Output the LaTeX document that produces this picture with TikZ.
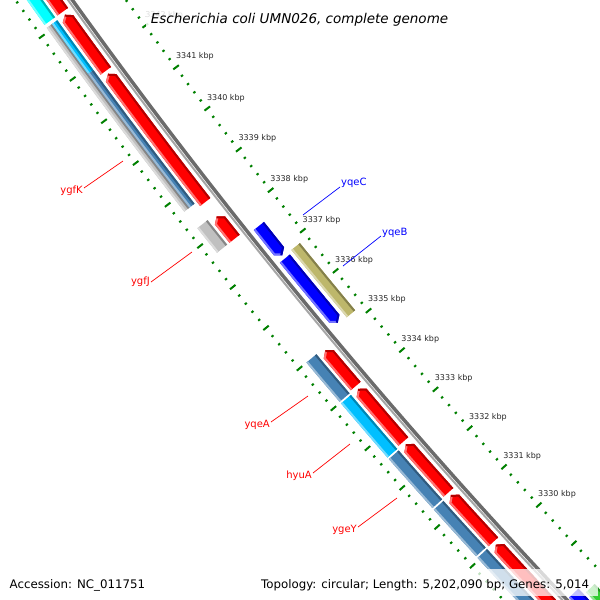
\documentclass[tikz,border=0pt]{standalone}
\usepackage{fontspec}
\setmainfont{DejaVu Sans}[ItalicFont={DejaVu Sans Oblique}]
\usetikzlibrary{calc}
\definecolor{cgred}{RGB}{255,0,0}
\definecolor{cgsteel}{RGB}{70,130,180}
\definecolor{cgsky}{RGB}{0,191,255}
\definecolor{cgcyan}{RGB}{0,255,255}
\definecolor{cgsilver}{RGB}{192,192,192}
\definecolor{cgblue}{RGB}{0,0,255}
\definecolor{cgkhaki}{RGB}{189,183,107}
\definecolor{cggreen}{RGB}{50,205,50}
\definecolor{cgorange}{RGB}{255,140,0}
\definecolor{rulergreen}{RGB}{0,128,0}
% kbp -> angle round the map centre
\newcommand\kang[2]{\pgfmathsetmacro#1{140.09+0.52*(#2-3335)}}
% box feature: k1, k2, inner r, outer r, colour
\newcommand\featbox[5]{%
  \kang\angA{#1}\kang\angB{#2}%
  \begin{scope}
  \fill[#5] (\angA:#3) arc[start angle=\angA,end angle=\angB,radius=#3]
    -- (\angB:#4) arc[start angle=\angB,end angle=\angA,radius=#4] -- cycle;
  \clip (\angA:#3) arc[start angle=\angA,end angle=\angB,radius=#3]
    -- (\angB:#4) arc[start angle=\angB,end angle=\angA,radius=#4] -- cycle;
  \draw[#5!55!white,line width=4] (\angA:#4) arc[start angle=\angA,end angle=\angB,radius=#4];
  \draw[#5!70!black,line width=4] (\angA:#3) arc[start angle=\angA,end angle=\angB,radius=#3];
  \end{scope}}
% arrow feature from angles: flat end, head base, tip
\newcommand\featarrow[6]{%
  \pgfmathsetmacro\rmid{(#4+#5)/2}%
  \begin{scope}
  \fill[#6] (#1:#4) arc[start angle=#1,end angle=#2,radius=#4] -- (#3:\rmid)
    -- (#2:#5) arc[start angle=#2,end angle=#1,radius=#5] -- cycle;
  \clip (#1:#4) arc[start angle=#1,end angle=#2,radius=#4] -- (#3:\rmid)
    -- (#2:#5) arc[start angle=#2,end angle=#1,radius=#5] -- cycle;
  \draw[#6!55!white,line width=4] (#1:#5) arc[start angle=#1,end angle=#2,radius=#5] -- (#3:\rmid);
  \draw[#6!70!black,line width=4] (#1:#4) arc[start angle=#1,end angle=#2,radius=#4] -- (#3:\rmid);
  \end{scope}}
\newcommand\featfwd[5]{\kang\angA{#1}\kang\angB{#2-0.1}\kang\angC{#2}%
  \featarrow{\angA}{\angB}{\angC}{#3}{#4}{#5}}
\newcommand\featrev[5]{\kang\angA{#2}\kang\angB{#1+0.1}\kang\angC{#1}%
  \featarrow{\angA}{\angB}{\angC}{#3}{#4}{#5}}
\tikzset{
  minortick/.style={rulergreen,line width=2pt},
  kbplabel/.style={font=\fontsize{8}{9}\selectfont,text=black!85,inner sep=0pt,anchor=base west},
  genelabel/.style={font=\fontsize{10}{12}\selectfont,inner sep=1pt},
  labelline/.style={line width=0.7pt},
  footer/.style={font=\fontsize{11.8}{14}\selectfont,inner sep=0pt,anchor=base west}
}
\begin{document}
\begin{tikzpicture}[x=1pt,y=-1pt]
\useasboundingbox (0,0) rectangle (600,600);
\clip (0,0) rectangle (600,600);
\begin{scope}[shift={(4739,-3345)}]
  \featbox{3326}{3328.05}{5698}{5709}{cgorange}
  % rulers
  \foreach \i in {0,...,95}{
    \pgfmathsetmacro\kk{3327+0.2*\i}
    \kang\angT{\kk}
    \pgfmathtruncatemacro\major{mod(\i,5)==0}
    \ifnum\major=1
      \draw[minortick] (\angT:5694.5) -- (\angT:5701.5);
      \draw[minortick] (\angT:5784.5) -- (\angT:5791.5);
    \else
      \draw[minortick] (\angT:5697) -- (\angT:5699.5);
      \draw[minortick] (\angT:5787) -- (\angT:5789.5);
    \fi
  }
  \foreach \k in {3330,...,3342}{
    \kang\angT{\k+0.135}
    \node[kbplabel] at (\angT:5693) {\k\ kbp};
  }
  % backbone
  \kang\angA{3326}\kang\angB{3347}
  \draw[black!58,line width=3.5] (\angA:5742) arc[start angle=\angA,end angle=\angB,radius=5742];
  \draw[black!35,line width=2] (\angA:5745.5) arc[start angle=\angA,end angle=\angB,radius=5745.5];
  % forward genes
  \featbox{3343.15}{3347}{5750}{5763}{cgred}
  \featfwd{3341.75}{3343.08}{5750}{5763}{cgred}
  \featfwd{3338.6}{3341.68}{5750}{5763}{cgred}
  \featfwd{3337.7}{3338.25}{5750}{5763}{cgred}
  \featfwd{3334.05}{3334.95}{5750}{5763}{cgred}
  \featfwd{3332.65}{3333.98}{5750}{5763}{cgred}
  \featfwd{3331.35}{3332.58}{5750}{5763}{cgred}
  \featfwd{3330.07}{3331.28}{5750}{5763}{cgred}
  \featfwd{3326}{3330.0}{5750}{5763}{cgred}
  % outer slot
  \featbox{3343.15}{3347}{5766}{5779}{cgcyan}
  \featbox{3338.7}{3343.08}{5772.5}{5779}{cgsilver}
  \featbox{3341.9}{3343.08}{5766}{5772.5}{cgsky}
  \featbox{3338.7}{3341.9}{5766}{5772.5}{cgsteel}
  \featbox{3337.7}{3338.3}{5766}{5779}{cgsilver}
  \featbox{3334.02}{3335.0}{5766}{5779}{cgsteel}
  \featbox{3332.62}{3333.98}{5766}{5779}{cgsky}
  \featbox{3331.33}{3332.58}{5766}{5779}{cgsteel}
  \featbox{3330.09}{3331.29}{5766}{5779}{cgsteel}
  \featbox{3326}{3330.05}{5766}{5779}{cgsteel}
  % reverse genes
  \featrev{3336.88}{3337.6}{5723}{5736}{cgblue}
  \featrev{3335.2}{3336.8}{5723}{5736}{cgblue}
  \featrev{3326}{3328.3}{5726}{5739}{cgblue}
  \featbox{3335.17}{3336.85}{5708}{5719}{cgkhaki}
  \featbox{3326}{3328.15}{5711}{5723}{cggreen}
\end{scope}
% gene labels
\node[genelabel,text=cgred,anchor=east] (ygfK) at (84,191) {ygfK};
\coordinate (ygfKend) at (123,161);
\draw[labelline,cgred] ([yshift=3pt]ygfK.east) -- (ygfKend);
\node[genelabel,text=cgred,anchor=east] (ygfJ) at (151,282) {ygfJ};
\coordinate (ygfJend) at (192,252);
\draw[labelline,cgred] (ygfJ.east) -- (ygfJend);
\node[genelabel,text=cgblue,anchor=west] (yqeC) at (340,183) {yqeC};
\coordinate (yqeCend) at (303,215);
\draw[labelline,cgblue] ([yshift=-4pt]yqeC.west) -- (yqeCend);
\node[genelabel,text=cgblue,anchor=west] (yqeB) at (381,233) {yqeB};
\coordinate (yqeBend) at (343,266);
\draw[labelline,cgblue] ([yshift=-3pt]yqeB.west) -- (yqeBend);
\node[genelabel,text=cgred,anchor=east] (yqeA) at (271,425) {yqeA};
\coordinate (yqeAend) at (308,396);
\draw[labelline,cgred] ([yshift=3pt]yqeA.east) -- (yqeAend);
\node[genelabel,text=cgred,anchor=east] (hyuA) at (313,476) {hyuA};
\coordinate (hyuAend) at (350,444);
\draw[labelline,cgred] ([yshift=3pt]hyuA.east) -- (hyuAend);
\node[genelabel,text=cgred,anchor=east] (ygeY) at (358,530) {ygeY};
\coordinate (ygeYend) at (397,498);
\draw[labelline,cgred] ([yshift=3pt]ygeY.east) -- (ygeYend);
% title and footer
\fill[white,opacity=0.85] (146,3) rectangle (453,31);
\node[font=\fontsize{13.5}{16}\selectfont\itshape,inner sep=0pt,anchor=base] (title) at (299.5,23.5)
  {Escherichia coli UMN026, complete genome};
\fill[white,opacity=0.75] (256,569) rectangle (598,596);
\node[footer] (accession) at (9.5,588) {Accession: NC\_011751};
\node[footer] (stats) at (261,588) {Topology: circular; Length: 5,202,090 bp; Genes: 5,014};
\end{tikzpicture}
\end{document}
